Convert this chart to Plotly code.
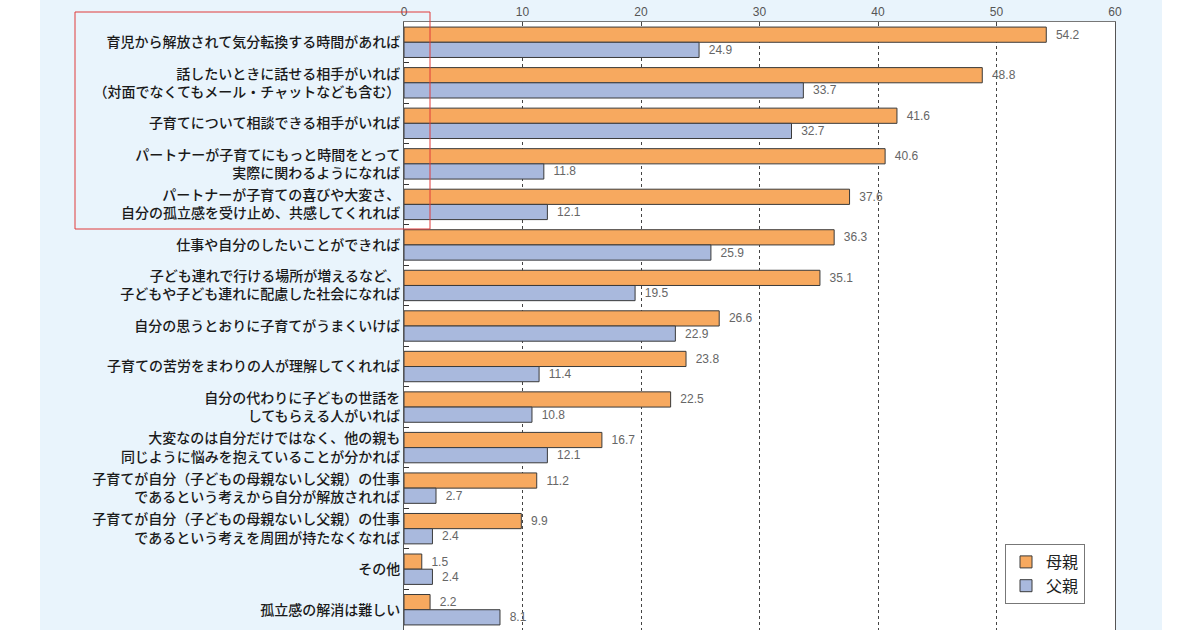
import plotly.graph_objects as go

categories = [
    "育児から解放されて気分転換する時間があれば",
    "話したいときに話せる相手がいれば<br>（対面でなくてもメール・チャットなども含む）",
    "子育てについて相談できる相手がいれば",
    "パートナーが子育てにもっと時間をとって<br>実際に関わるようになれば",
    "パートナーが子育ての喜びや大変さ、<br>自分の孤立感を受け止め、共感してくれれば",
    "仕事や自分のしたいことができれば",
    "子ども連れで行ける場所が増えるなど、<br>子どもや子ども連れに配慮した社会になれば",
    "自分の思うとおりに子育てがうまくいけば",
    "子育ての苦労をまわりの人が理解してくれれば",
    "自分の代わりに子どもの世話を<br>してもらえる人がいれば",
    "大変なのは自分だけではなく、他の親も<br>同じように悩みを抱えていることが分かれば",
    "子育てが自分（子どもの母親ないし父親）の仕事<br>であるという考えから自分が解放されれば",
    "子育てが自分（子どもの母親ないし父親）の仕事<br>であるという考えを周囲が持たなくなれば",
    "その他",
    "孤立感の解消は難しい",
]
mothers = [54.2, 48.8, 41.6, 40.6, 37.6, 36.3, 35.1, 26.6, 23.8, 22.5, 16.7, 11.2, 9.9, 1.5, 2.2]
fathers = [24.9, 33.7, 32.7, 11.8, 12.1, 25.9, 19.5, 22.9, 11.4, 10.8, 12.1, 2.7, 2.4, 2.4, 8.1]
series_names = ["母親", "父親"]
x_ticks = [0, 10, 20, 30, 40, 50, 60]

W, H = 1200, 630
L, R, T, B = 404, 1115, 22, 630

def px(x):
    return (x - L) / (R - L)

def py(y):
    return (B - y) / (B - T)

font_jp = "Noto Sans CJK JP"

fig = go.Figure()
for name, vals, color in [(series_names[0], mothers, "#F7A95F"), (series_names[1], fathers, "#A9B9DD")]:
    fig.add_trace(go.Bar(
        y=categories, x=vals, name=name, orientation="h",
        marker=dict(color=color, line=dict(color="#3a3a3a", width=1)),
        text=["\u00a0\u00a0" + f"{v}" for v in vals],
        textposition="outside",
        textfont=dict(family="Liberation Sans", size=12, color="#666666"),
        cliponaxis=False,
    ))

fig.update_layout(
    width=W, height=H,
    margin=dict(l=L, r=W - R, t=T, b=H - B),
    paper_bgcolor="#E9F4FC",
    plot_bgcolor="#FFFFFF",
    barmode="group",
    bargap=0.25,
    bargroupgap=0,
    font=dict(family=font_jp, color="#222222"),
    xaxis=dict(
        side="top", range=[0, 60], tickvals=x_ticks,
        showgrid=True, gridcolor="#444444", griddash="3px,3px", gridwidth=1,
        ticks="inside", ticklen=4, tickcolor="#444444",
        tickfont=dict(size=12, color="#555555", family="Liberation Sans"),
        showline=True, linecolor="#777777", linewidth=1, mirror=True,
        zeroline=False, fixedrange=True,
    ),
    yaxis=dict(
        autorange="reversed", type="category",
        ticks="inside", tickson="boundaries", ticklen=5, tickcolor="#333333",
        tickfont=dict(size=14, color="#1a1a1a", family=font_jp, weight=500),
        showline=True, linecolor="#555555", linewidth=1, mirror=True,
        showgrid=False, fixedrange=True,
    ),
    legend=dict(
        x=px(1005), y=py(544), xanchor="left", yanchor="top",
        bgcolor="#FFFFFF", bordercolor="#777777", borderwidth=1,
        font=dict(size=16, color="#222222", family=font_jp),
        traceorder="normal", itemwidth=30,
    ),
    showlegend=True,
)

shapes = [
    dict(type="rect", xref="paper", yref="paper", x0=px(0), x1=px(40), y0=py(H), y1=py(0),
         fillcolor="#FFFFFF", line=dict(width=0), layer="below"),
    dict(type="rect", xref="paper", yref="paper", x0=px(1162), x1=px(W), y0=py(H), y1=py(0),
         fillcolor="#FFFFFF", line=dict(width=0), layer="below"),
    dict(type="rect", xref="paper", yref="paper", x0=px(75), x1=px(430), y0=py(229), y1=py(12),
         fillcolor="rgba(0,0,0,0)", line=dict(color="#E03A3A", width=1), layer="above"),
]
fig.update_layout(shapes=shapes)

fig.write_html("out.html")
